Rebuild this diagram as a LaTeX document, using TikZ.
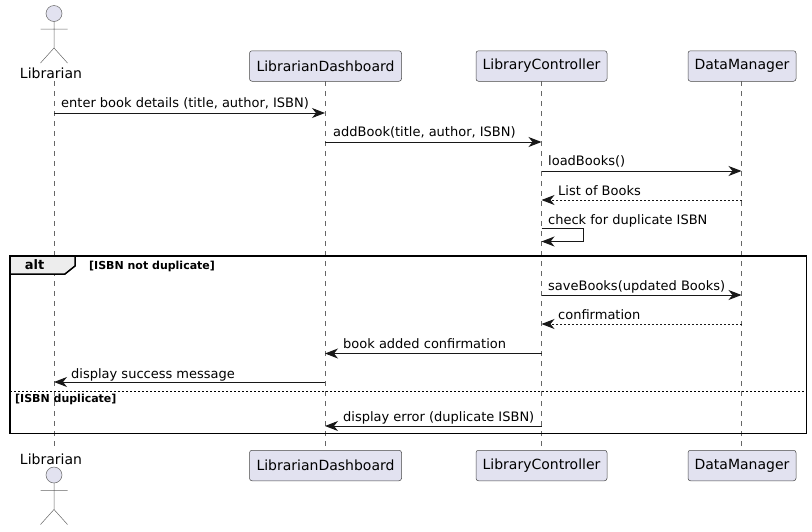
\documentclass[tikz,border=0pt]{standalone}
\usepackage{fontspec}
\setmainfont{DejaVu Sans}
\usetikzlibrary{arrows.meta}
\definecolor{partfill}{HTML}{E2E2F0}
\definecolor{partline}{HTML}{181818}
\definecolor{thinline}{HTML}{666666}
\tikzset{
  x=1pt,y=-1pt,
  partbox/.style={draw=partline!80,fill=partfill,rounded corners=2.5pt,line width=0.5pt,minimum height=30.5pt,font=\fontsize{14}{16}\selectfont,inner sep=0pt,anchor=center},
  lifeline/.style={draw=thinline,line width=0.5pt,dash pattern=on 5pt off 5pt},
  msg/.style={draw=partline,line width=1pt,-{Stealth[length=13pt,width=10pt,inset=4pt,fill=partline]}},
  ret/.style={msg,dash pattern=on 2pt off 2pt},
  lab/.style={anchor=base west,inner sep=0pt,font=\fontsize{13}{15}\selectfont,text=black},
  actorname/.style={inner sep=0pt,font=\fontsize{14}{16}\selectfont,text=black},
  guard/.style={anchor=base west,inner sep=0pt,font=\bfseries\fontsize{11}{13}\selectfont,text=black},
  frameline/.style={draw=black,line width=1.5pt},
  stick/.style={draw=thinline,line width=0.5pt},
}
\newcommand{\stickman}[2]{%
  \draw[stick,fill=partfill] (#1,#2) circle[radius=8pt];
  \draw[stick] (#1,#2+8) -- (#1,#2+34.5) (#1-13.5,#2+15.5) -- (#1+13.5,#2+15.5)
     (#1-13.5,#2+49.5) -- (#1,#2+34.5) -- (#1+13.5,#2+49.5);
}
\begin{document}
\begin{tikzpicture}
\useasboundingbox (0,0) rectangle (812,531);
% lifeline positions
\coordinate (A) at (54,81);
\coordinate (B) at (325,81);
\coordinate (C) at (541.5,81);
\coordinate (D) at (741.5,81);
\coordinate (Aend) at (54,450);
\coordinate (Bend) at (325,450);
\coordinate (Cend) at (541.5,450);
\coordinate (Dend) at (741.5,450);
% lifelines
\draw[lifeline] (A) -- (Aend);
\draw[lifeline] (B) -- (Bend);
\draw[lifeline] (C) -- (Cend);
\draw[lifeline] (D) -- (Dend);
% frame
\draw[frameline] (10,256) rectangle (806.5,433.5);
\draw[frameline,fill=black!7] (10,256) -- (75,256) -- (75,266) -- (65,274) -- (10,274) -- cycle;
\draw[draw=black,line width=0.7pt,dash pattern=on 2pt off 2pt] (10,391) -- (806.5,391);
% frame text
\node[inner sep=0pt,font=\bfseries\fontsize{13}{15}\selectfont] (alt) at (34.5,265) {alt};
\node[guard] (g1) at (89,269) {[ISBN not duplicate]};
\node[guard] (g2) at (15,402) {[ISBN duplicate]};
% participants
\stickman{54}{13.5}
\stickman{54}{475}
\node[actorname] (a1) at (51,73) {Librarian};
\node[actorname] (a2) at (51,459) {Librarian};
\node[partbox,minimum width=152pt] (b1) at (325.5,66) {LibrarianDashboard};
\node[partbox,minimum width=131pt] (c1) at (541.5,66) {LibraryController};
\node[partbox,minimum width=108pt] (d1) at (742,66) {DataManager};
\node[partbox,minimum width=152pt] (b2) at (325.5,465.5) {LibrarianDashboard};
\node[partbox,minimum width=131pt] (c2) at (541.5,465.5) {LibraryController};
\node[partbox,minimum width=108pt] (d2) at (742,465.5) {DataManager};
% messages
\draw[msg] (A |- 0,113) -- (B |- 0,113);
\node[lab] (m1) at (61,107) {enter book details (title, author, ISBN)};
\draw[msg] (B |- 0,142) -- (C |- 0,142);
\node[lab] (m2) at (333,136) {addBook(title, author, ISBN)};
\draw[msg] (C |- 0,171) -- (D |- 0,171);
\node[lab] (m3) at (548,165) {loadBooks()};
\draw[ret] (D |- 0,200) -- (C |- 0,200);
\node[lab] (m4) at (558,195) {List of Books};
\draw[draw=partline,line width=1pt] (C |- 0,228.5) -- (583,228.5) -- (583,241.5);
\draw[msg] (583,241.5) -- (C |- 0,241.5);
\node[lab] (m5) at (548,224) {check for duplicate ISBN};
\draw[msg] (C |- 0,295) -- (D |- 0,295);
\node[lab] (m6) at (548,290) {saveBooks(updated Books)};
\draw[ret] (D |- 0,324) -- (C |- 0,324);
\node[lab] (m7) at (558,319) {confirmation};
\draw[msg] (C |- 0,353.5) -- (B |- 0,353.5);
\node[lab] (m8) at (343,348) {book added confirmation};
\draw[msg] (B |- 0,382) -- (A |- 0,382);
\node[lab] (m9) at (71,378) {display success message};
\draw[msg] (C |- 0,426) -- (B |- 0,426);
\node[lab] (m10) at (343,421) {display error (duplicate ISBN)};
\end{tikzpicture}
\end{document}
